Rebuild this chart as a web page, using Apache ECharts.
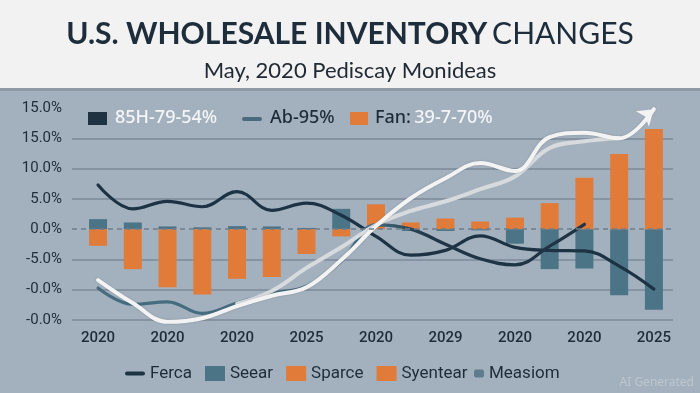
<!DOCTYPE html>
<html>
<head>
<meta charset="utf-8">
<script src="https://cdn.jsdelivr.net/npm/echarts@6/dist/echarts.min.js"></script>
<style>html,body{margin:0;padding:0;background:#a3b1be;}#c{width:700px;height:393px;}</style>
</head>
<body>
<div id="c"></div>
<script>
// ---- data ----
var xTickLabels = ['2020','2020','2020','2025','2020','2029','2020','2020','2025'];
var yTickValues = [-15,-10,-5,0,5,10,15,20];
var yTickLabels = ['-0.0%','-0.0%','-5.0%','0.0%','5.0%','10.0%','15.0%','15.0%'];
var seearBars  = [1.65,1.1,0.45,0.3,0.5,0.45,0.2,3.35,0,-0.3,-0.3,-0.2,-2.4,-6.6,-6.5,-10.9,-13.3];
var sparceBars = [-2.75,-6.6,-9.6,-10.8,-8.2,-7.9,-4.1,-1.2,4.1,1.1,1.75,1.25,1.9,4.3,8.5,12.4,16.55];
var fercaLine  = [7.3,3.35,4.6,3.7,6.2,3.1,4.3,2.3,-1.2,-4.3,-3.5,-1.1,-3.0,-3.5,-3.6,-6.1,-9.9];
var tealLine   = [-9.7,-12.4,-12.0,-13.9,-12.2,-10.6,-9.4,-5.3,0.7,0.0,-2.5,-4.9,-5.9,-2.8,0.8];
var whiteLine  = [-8.4,-12.2,-15.3,-14.7,-12.7,-11.0,-9.6,-5.1,0.5,5.1,8.4,10.9,9.6,15.2,15.9,15.0,19.8];
var greyLine   = [null,null,null,null,-12.3,-10.2,-6.4,-3.0,0.7,3.0,4.6,6.6,8.7,13.4,14.5,15.0];

function pairs(arr){
  var out = [];
  arr.forEach(function(v,i){ if(v!==null) out.push([i,v]); });
  return out;
}
var whiteData = pairs(whiteLine);
var last = whiteData[whiteData.length-1];
whiteData[whiteData.length-1] = {value:last, symbol:'arrow', symbolSize:[15,15], symbolRotate:-50,
  itemStyle:{color:'#f3f3f3'}};

var chart = echarts.init(document.getElementById('c'), null, {renderer:'canvas'});
var txt = '#1e2c39';
var option = {
  backgroundColor:'#a3b1be',
  animation:false,
  title:[
    {left:'center', top:14,
     text:'{b|U.S. WHOLESALE INVENTORY} {r|CHANGES}',
     textStyle:{rich:{
       b:{fontFamily:'Lato', fontWeight:'bold', fontSize:30, color:'#1d2d3b'},
       r:{fontFamily:'Lato', fontWeight:'normal', fontSize:30, color:'#1d2d3b'}
     }}},
    {left:'center', top:55, text:'May, 2020 Pediscay Monideas',
     textStyle:{fontFamily:'Lato', fontWeight:'normal', fontSize:22, color:'#222a33'}}
  ],
  graphic:[
    {type:'rect', z:-1, shape:{x:0,y:0,width:700,height:88}, style:{fill:'#f2f2f2'}},
    {type:'rect', z:-1, shape:{x:0,y:88,width:700,height:3}, style:{fill:'#8d9aa6'}},
    // top in-plot legend
    {type:'rect', shape:{x:88,y:112,width:19,height:13}, style:{fill:'#1e3242'}},
    {type:'text', x:115, y:118, style:{text:'85H-79-54%', fill:'#f3f5f7', font:'500 18px "Noto Sans"', verticalAlign:'middle'}},
    {type:'rect', shape:{x:242,y:117,width:20,height:4,r:2}, style:{fill:'#4a6b7d'}},
    {type:'text', x:270, y:118, style:{text:'Ab-95%', fill:'#1e2c39', font:'500 18px "Noto Sans"', verticalAlign:'middle'}},
    {type:'rect', shape:{x:350,y:112,width:18,height:13}, style:{fill:'#e07b39'}},
    {type:'text', x:375, y:118, style:{text:'{d|Fan:} {w|39-7-70%}', verticalAlign:'middle',
      rich:{d:{fill:'#1e2c39', font:'500 18px "Noto Sans"'}, w:{fill:'#f3f5f7', font:'500 18px "Noto Sans"'}}}},
    {type:'text', right:6, bottom:4, style:{text:'AI Generated', fill:'#bcc6cf', font:'12px "Noto Sans"'}}
  ],
  legend:[
    {left:120, top:360, itemWidth:20, itemHeight:15, itemGap:13,
     textStyle:{fontFamily:'Roboto', fontSize:17, color:txt},
     data:[
       {name:'Ferca', icon:'path://M2,0 L18,0 A2,2 0 0 1 18,4 L2,4 A2,2 0 0 1 2,0 Z'},
       {name:'Seear', icon:'rect'},
       {name:'Sparce', icon:'rect'},
       {name:'Syentear', icon:'rect'}
     ]},
    {left:469, top:360, itemWidth:10, itemHeight:8,
     textStyle:{fontFamily:'Roboto', fontSize:17, color:txt},
     data:[{name:'Measiom', icon:'roundRect'}]}
  ],
  grid:{left:72, right:27, top:108, bottom:73},
  xAxis:{type:'value', min:-0.75, max:16.55,
    axisLine:{show:false}, axisTick:{show:false}, splitLine:{show:false},
    axisLabel:{customValues:[0,2,4,6,8,10,12,14,16], margin:11,
      formatter:function(v){ return xTickLabels[Math.round(v/2)]; },
      fontFamily:'Roboto', fontWeight:500, fontSize:15, color:txt}},
  yAxis:{type:'value', min:-15, max:20, interval:5,
    axisLine:{show:false}, axisTick:{show:false},
    axisLabel:{margin:10, fontFamily:'Roboto', fontSize:15, color:txt,
      formatter:function(v){ return yTickLabels[yTickValues.indexOf(v)]; }},
    splitLine:{show:true, showMaxLine:false,
      lineStyle:{width:1.5, color:['#7b8a98','#7b8a98','#7b8a98','rgba(0,0,0,0)','#7b8a98','#7b8a98','#7b8a98','rgba(0,0,0,0)']}}},
  series:[
    {name:'Seear', type:'bar', stack:'b', barWidth:18, data:pairs(seearBars),
     itemStyle:{color:'#4b7487'},
     markLine:{silent:true, symbol:'none', label:{show:false},
       lineStyle:{color:'#6e7d8b', type:[5,4], width:1.5}, data:[{yAxis:0}]}},
    {name:'Sparce', type:'bar', stack:'b', barWidth:18, data:pairs(sparceBars),
     itemStyle:{color:'#e07b39'}},
    {name:'Syentear', type:'line', data:[], itemStyle:{color:'#e07b39'}},
    {name:'Measiom', type:'scatter', data:[], itemStyle:{color:'#4d6f80'}},
    {name:'Ferca', type:'line', smooth:0.4, symbol:'none', clip:false, data:pairs(fercaLine),
     itemStyle:{color:'#1d3344'}, lineStyle:{color:'#1d3344', width:3.2, cap:'round'}},
    {name:'tealLine', type:'line', smooth:0.4, symbol:'none', clip:false, data:pairs(tealLine),
     lineStyle:{width:3.2, cap:'round', color:{type:'linear', x:0, y:0, x2:1, y2:0, colorStops:[
       {offset:0, color:'#466c7f'},{offset:0.56, color:'#466c7f'},{offset:0.68, color:'#1f3546'},{offset:1, color:'#1f3546'}]}}},
    {name:'greyLine', type:'line', smooth:0.4, symbol:'none', clip:false, data:pairs(greyLine),
     lineStyle:{color:'#d7dbde', width:4, cap:'round'}},
    {name:'whiteLine', type:'line', smooth:0.4, symbol:'none', clip:false, data:whiteData,
     lineStyle:{color:'#f3f3f3', width:4, cap:'round', shadowColor:'rgba(40,50,60,0.25)', shadowBlur:2}}
  ]
};
chart.setOption(option);
</script>
</body>
</html>
